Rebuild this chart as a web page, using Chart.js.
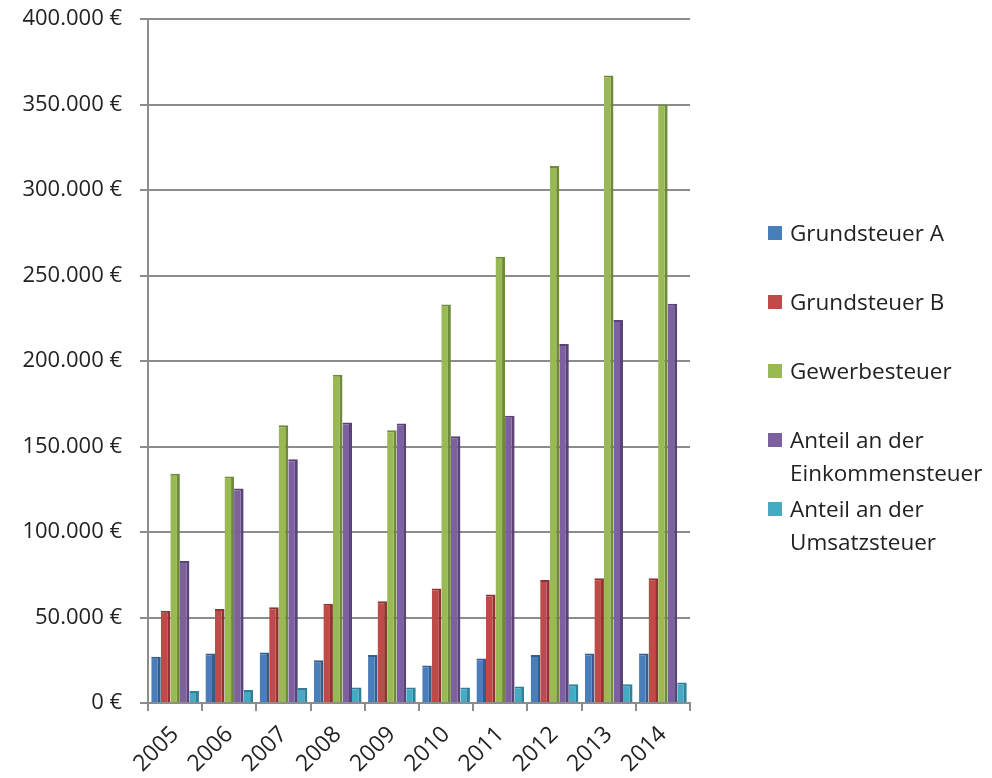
<!DOCTYPE html>
<html>
<head>
<meta charset="utf-8">
<script src="https://cdn.jsdelivr.net/npm/chart.js@4.4.1/dist/chart.umd.min.js"></script>
<style>
  html, body { margin: 0; padding: 0; background: #fff; }
  #wrap { position: relative; width: 992px; height: 778px; }
  #legend { position: absolute; left: 768px; top: 0; font-family: "Open Sans", sans-serif; font-size: 22.5px; color: #222; }
  .item { position: absolute; left: 0; display: flex; align-items: flex-start; white-space: nowrap; line-height: 33px; }
  .sw { width: 14px; height: 14px; margin-top: 10px; margin-right: 8px; flex: none; }
</style>
</head>
<body>
<div id="wrap">
  <canvas id="c" width="992" height="778"></canvas>
  <div id="legend"></div>
</div>
<script>
const years = ['2005','2006','2007','2008','2009','2010','2011','2012','2013','2014'];
const grundsteuerA = [27000, 29000, 29500, 25000, 28000, 22000, 26000, 28000, 29000, 29000];
const grundsteuerB = [54000, 55000, 56000, 58000, 59500, 67000, 63500, 72000, 73000, 73000];
const gewerbesteuer = [134000, 132500, 162500, 192000, 159500, 233000, 261000, 314000, 367000, 350000];
const einkommensteuer = [83000, 125500, 142500, 164000, 163500, 156000, 168000, 210000, 224000, 233500];
const umsatzsteuer = [7000, 7600, 8800, 9000, 9000, 9000, 9600, 11000, 11000, 12000];
const seriesLabels = [['Grundsteuer A'], ['Grundsteuer B'], ['Gewerbesteuer'], ['Anteil an der', 'Einkommensteuer'], ['Anteil an der', 'Umsatzsteuer']];
const yTicks = [0, 50000, 100000, 150000, 200000, 250000, 300000, 350000, 400000];

const colors = ['#4A7EBB', '#BE4B48', '#98B954', '#7D60A0', '#46AAC5'];
const edges = ['#345D8C', '#8E3532', '#6F8A3A', '#5A4378', '#2F8199'];
const seriesData = [grundsteuerA, grundsteuerB, gewerbesteuer, einkommensteuer, umsatzsteuer];

function fmt(v) {
  return String(v).replace(/\B(?=(\d{3})+(?!\d))/g, '.') + ' €';
}

const datasets = seriesData.map((d, i) => ({
  label: seriesLabels[i].join(' '),
  data: d,
  backgroundColor: colors[i],
  borderColor: edges[i],
  borderWidth: { top: 2, right: 3, left: 0, bottom: 0 },
  borderSkipped: false,
  categoryPercentage: 0.88,
  barPercentage: 1.0
}));

const chart = new Chart(document.getElementById('c'), {
  type: 'bar',
  data: { labels: years, datasets },
  options: {
    responsive: false,
    animation: false,
    devicePixelRatio: 1,
    layout: { padding: { top: 19, right: 302, left: 0, bottom: 0 } },
    plugins: { legend: { display: false }, tooltip: { enabled: false } },
    scales: {
      x: {
        offset: true,
        grid: { display: true, offset: true, drawOnChartArea: false, drawTicks: true, tickLength: 8, color: '#8c8c8c', lineWidth: 2 },
        border: { display: true, color: '#8c8c8c', width: 2 },
        ticks: { minRotation: 45, maxRotation: 45, color: '#222', font: { family: 'Open Sans', size: 23 }, padding: 10 },
        afterFit: (s) => { s.height = 75; s.paddingTop = 0; s.paddingBottom = 0; s.paddingLeft = 0; s.paddingRight = 0; }
      },
      y: {
        min: 0,
        max: 400000,
        afterBuildTicks: (s) => { s.ticks = yTicks.map(v => ({ value: v })); },
        grid: { color: '#8c8c8c', lineWidth: 2, drawTicks: true, tickLength: 8 },
        border: { display: true, color: '#8c8c8c', width: 2 },
        ticks: { color: '#222', font: { family: 'Open Sans', size: 22 }, padding: 18, callback: (v) => fmt(v) },
        afterFit: (s) => { s.width = 148; s.paddingTop = 0; s.paddingBottom = 0; }
      }
    }
  }
});

const legend = document.getElementById('legend');
seriesLabels.forEach((lines, i) => {
  const item = document.createElement('div');
  item.className = 'item';
  item.style.top = (216 + 69 * i) + 'px';
  const sw = document.createElement('span');
  sw.className = 'sw';
  sw.style.background = colors[i];
  const txt = document.createElement('span');
  txt.innerHTML = lines.join('<br>');
  item.appendChild(sw);
  item.appendChild(txt);
  legend.appendChild(item);
});
</script>
</body>
</html>
